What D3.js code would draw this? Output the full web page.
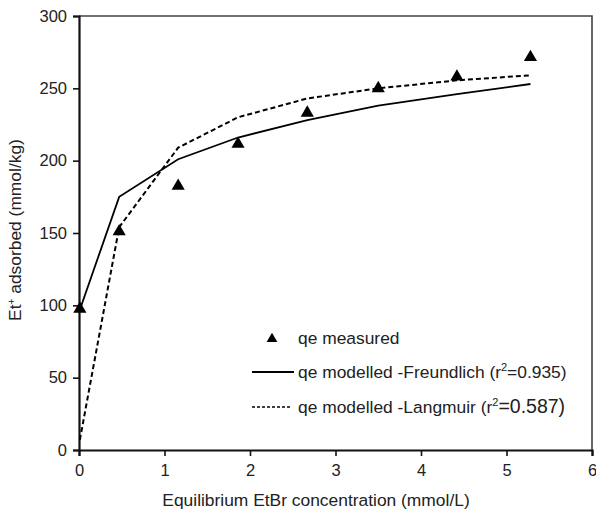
<!DOCTYPE html>
<html>
<head>
<meta charset="utf-8">
<script src="https://cdn.jsdelivr.net/npm/d3@7"></script>
<style>
  body { margin: 0; background: #fff; }
  svg text { font-family: "Liberation Sans", Arial, sans-serif; fill: #222; }
</style>
</head>
<body>
<div id="chart"></div>
<script>
// equilibrium concentration (mmol/L)
const conc = [0.01, 0.47, 1.16, 1.86, 2.67, 3.5, 4.42, 5.28];
const measured = [97.5, 151, 182.5, 211.5, 233, 250, 258, 271.5];
const freundlich = [97, 175, 201, 216, 228, 238, 246, 253];
const langmuir = [7, 154, 209, 230, 243, 250, 255.5, 259];
const xTicks = [0, 1, 2, 3, 4, 5, 6];
const yTicks = [0, 50, 100, 150, 200, 250, 300];

const W = 596, H = 515;
const margin = {top: 16, right: 4, bottom: 65, left: 79};
const width = W - margin.left - margin.right;
const height = H - margin.top - margin.bottom;

const svg = d3.select("#chart").append("svg")
    .attr("width", W)
    .attr("height", H);

const g = svg.append("g")
    .attr("transform", `translate(${margin.left},${margin.top})`);

const x = d3.scaleLinear().domain([0, 6]).range([0, width]);
const y = d3.scaleLinear().domain([0, 300]).range([height, 0]);

// frame top / right
g.append("path")
    .attr("d", `M0,0H${width}V${height}`)
    .attr("fill", "none")
    .attr("stroke", "#444")
    .attr("stroke-width", 1.6);

// axes
const xAxis = g.append("g")
    .attr("transform", `translate(0,${height})`)
    .call(d3.axisBottom(x).tickValues(xTicks).tickSize(6).tickPadding(8).tickFormat(d3.format("d")));
const yAxis = g.append("g")
    .call(d3.axisLeft(y).tickValues(yTicks).tickSize(6).tickPadding(6).tickFormat(d3.format("d")));

[xAxis, yAxis].forEach(a => {
    a.select(".domain").attr("stroke", "#111").attr("stroke-width", 2.2);
    a.selectAll(".tick line").attr("stroke", "#111").attr("stroke-width", 1.6);
    a.selectAll(".tick text").style("font-size", "16.5px").style("fill", "#222");
});

const pts = conc.map((c, i) => ({c, m: measured[i], f: freundlich[i], l: langmuir[i]}));

// model lines
g.append("path")
    .datum(pts)
    .attr("fill", "none")
    .attr("stroke", "#000")
    .attr("stroke-width", 1.8)
    .attr("d", d3.line().x(d => x(d.c)).y(d => y(d.f)));

g.append("path")
    .datum(pts)
    .attr("fill", "none")
    .attr("stroke", "#000")
    .attr("stroke-width", 2)
    .attr("stroke-dasharray", "5,3")
    .attr("d", d3.line().x(d => x(d.c)).y(d => y(d.l)));

// measured points
const tri = d3.symbol().type(d3.symbolTriangle).size(75);
g.append("g")
    .selectAll("path")
    .data(pts)
    .join("path")
    .attr("transform", d => `translate(${x(d.c)},${y(d.m)})`)
    .attr("d", tri)
    .attr("fill", "#000");

// axis titles
svg.append("text")
    .attr("x", 316)
    .attr("y", 506)
    .attr("text-anchor", "middle")
    .style("font-size", "17.4px")
    .text("Equilibrium EtBr concentration (mmol/L)");

const yl = svg.append("text")
    .attr("transform", `translate(21,230) rotate(-90)`)
    .attr("text-anchor", "middle")
    .style("font-size", "17.4px");
yl.append("tspan").text("Et");
yl.append("tspan").attr("dy", -6).style("font-size", "10px").text("+");
yl.append("tspan").attr("dy", 6).text(" adsorbed (mmol/kg)");

// legend
const lg = svg.append("g");
lg.append("path")
    .attr("transform", "translate(272,339)")
    .attr("d", d3.symbol().type(d3.symbolTriangle).size(50))
    .attr("fill", "#000");
lg.append("text").attr("x", 298).attr("y", 344).style("font-size", "17.4px").text("qe measured");

lg.append("line").attr("x1", 252).attr("x2", 294).attr("y1", 372).attr("y2", 372)
    .attr("stroke", "#000").attr("stroke-width", 2);
const t2 = lg.append("text").attr("x", 298).attr("y", 378).style("font-size", "17.4px");
t2.append("tspan").text("qe modelled -Freundlich (r");
t2.append("tspan").attr("dy", -7).style("font-size", "11px").text("2");
t2.append("tspan").attr("dy", 7).text("=0.935)");

lg.append("line").attr("x1", 252).attr("x2", 291).attr("y1", 407).attr("y2", 407)
    .attr("stroke", "#000").attr("stroke-width", 1.5).attr("stroke-dasharray", "3,2");
const t3 = lg.append("text").attr("x", 298).attr("y", 413).style("font-size", "17.4px");
t3.append("tspan").text("qe modelled -Langmuir (r");
t3.append("tspan").attr("dy", -7).style("font-size", "11px").text("2");
t3.append("tspan").attr("dy", 7).style("font-size", "19.5px").text("=0.587)");
</script>
</body>
</html>
